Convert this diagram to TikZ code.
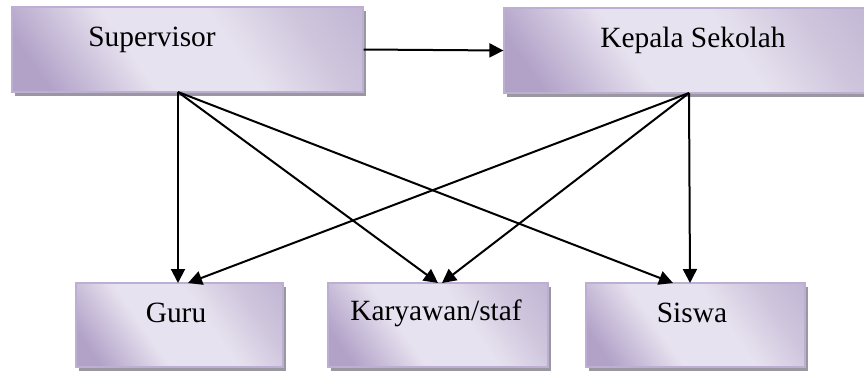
\documentclass[tikz,border=0pt]{standalone}
\usepackage{fontspec}
\setmainfont{Liberation Serif}
\usetikzlibrary{arrows.meta,shadows}
\definecolor{boxdark}{HTML}{B2A2C8}
\definecolor{boxmid}{HTML}{CFC6DD}
\definecolor{boxlight}{HTML}{E7E2EF}
\definecolor{boxline}{HTML}{BDAFD3}
\definecolor{boxshadow}{HTML}{9A97A0}
\pgfdeclarehorizontalshading{lilac}{100bp}{%
  color(0bp)=(boxdark); color(22bp)=(boxdark); color(40bp)=(boxlight);
  color(58bp)=(boxlight); color(72bp)=(boxmid); color(100bp)=(boxdark)}
\tikzset{
  orgbox/.style={draw=boxline, line width=1.2bp, shading=lilac, shading angle=35,
    rectangle, inner sep=0pt,
    general shadow={shadow xshift=3bp, shadow yshift=-3.5bp, fill=boxshadow}},
  label text/.style={font=\fontsize{29.5}{32}\selectfont, inner sep=0pt},
  link/.style={line width=2bp, -{Triangle[length=14bp,width=14bp]}}
}
\begin{document}
\begin{tikzpicture}[x=1bp,y=-1bp]
  \useasboundingbox (0,0) rectangle (864,372);
  \clip (0,0) rectangle (864,372);
  % upper row
  \node[orgbox, minimum width=351bp, minimum height=85bp] (sup) at (187.5,49.5) {};
  \node[orgbox, minimum width=370bp, minimum height=85bp] (kep) at (689,50.5) {};
  \node[label text] (suptext) at (152,40) {Supervisor};
  \node[label text] (keptext) at (693,40) {Kepala Sekolah};
  % lower row
  \node[orgbox, minimum width=207bp, minimum height=84bp] (guru) at (179.5,325) {};
  \node[orgbox, minimum width=220bp, minimum height=84bp] (kary) at (438,325) {};
  \node[orgbox, minimum width=219bp, minimum height=84bp] (sisw) at (695.5,325) {};
  \node[label text] (gurutext) at (176,313) {Guru};
  \node[label text] (karytext) at (436,313) {Karyawan/staf};
  \node[label text] (siswtext) at (692,313) {Siswa};
  % points where the connectors leave and enter the boxes
  \coordinate (supout) at (178,92);
  \coordinate (kepout) at (689,93);
  \coordinate (guruA) at (178,283);
  \coordinate (guruB) at (188,283);
  \coordinate (karyA) at (438,283);
  \coordinate (karyB) at (442,283);
  \coordinate (siswA) at (673,283);
  \coordinate (siswB) at (690,283);
  % connectors
  \draw[link] (sup.east) -- (kep.west);
  \draw[link] (supout) -- (guruA);
  \draw[link] (supout) -- (karyA);
  \draw[link] (supout) -- (siswA);
  \draw[link] (kepout) -- (guruB);
  \draw[link] (kepout) -- (karyB);
  \draw[link] (kepout) -- (siswB);
\end{tikzpicture}
\end{document}
